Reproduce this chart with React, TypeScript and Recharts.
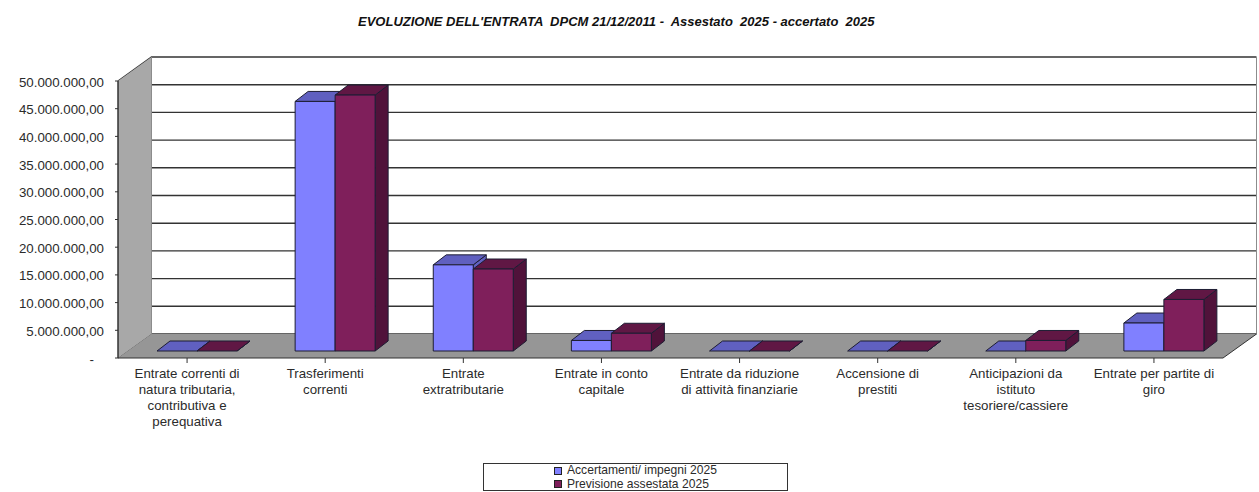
import { Bar, BarChart, CartesianGrid, Legend, ReferenceArea, XAxis, YAxis } from "recharts";

const categories = [
  ["Entrate correnti di", "natura tributaria,", "contributiva e", "perequativa"],
  ["Trasferimenti", "correnti"],
  ["Entrate", "extratributarie"],
  ["Entrate in conto", "capitale"],
  ["Entrate da riduzione", "di attività finanziarie"],
  ["Accensione di", "prestiti"],
  ["Anticipazioni da", "istituto", "tesoriere/cassiere"],
  ["Entrate per partite di", "giro"],
];
const accertamenti = [0, 45050000, 15550000, 1900000, 0, 0, 0, 5050000];
const previsione = [0, 46200000, 14800000, 3200000, 0, 0, 1900000, 9300000];
const yTicks = [0, 5000000, 10000000, 15000000, 20000000, 25000000, 30000000, 35000000, 40000000, 45000000, 50000000];
const yLabels = ["-", "5.000.000,00", "10.000.000,00", "15.000.000,00", "20.000.000,00", "25.000.000,00", "30.000.000,00", "35.000.000,00", "40.000.000,00", "45.000.000,00", "50.000.000,00"];

const data = categories.map((c, i) => ({ name: i, acc: accertamenti[i], prev: previsione[i] }));

const FONT = "'Liberation Sans', Arial, sans-serif";
const TEXT = "#2b2b2b";
const LINE = "#333333";
// depth of the walls, and of the bars, in px
const WALL_X = 33.5;
const WALL_Y = 24;
const BAR_SHIFT_X = 10;
const BAR_SHIFT_Y = 7;
const DEPTH_X = 13;
const DEPTH_Y = 10;

function Walls({ x, y, width, height }: any) {
  const b = y + height;
  const r = x + width;
  return (
    <g>
      <polygon points={`${x},${y} ${x + WALL_X},${y - WALL_Y} ${x + WALL_X},${b - WALL_Y} ${x},${b}`} fill="#a8a8a8" />
      <polygon points={`${x},${b} ${x + WALL_X},${b - WALL_Y} ${r + WALL_X},${b - WALL_Y} ${r},${b}`} fill="#969696" />
      <line x1={x + WALL_X} y1={y - WALL_Y} x2={x + WALL_X} y2={b - WALL_Y} stroke="#8c8c8c" />
      <line x1={r + WALL_X} y1={y - WALL_Y} x2={r + WALL_X} y2={b - WALL_Y} stroke="#8c8c8c" />
      <line x1={x} y1={b} x2={x} y2={y} stroke={LINE} />
      <line x1={r} y1={b} x2={r + WALL_X} y2={b - WALL_Y} stroke={LINE} />
    </g>
  );
}

function GridLine({ x1, x2, y1 }: any) {
  return (
    <g key={`g-${y1}`}>
      <polyline
        points={`${x1},${y1} ${x1 + WALL_X},${y1 - WALL_Y} ${x2 + WALL_X},${y1 - WALL_Y}`}
        fill="none"
        stroke={LINE}
        strokeWidth={1.4}
      />
    </g>
  );
}

function Box3D({ x, y, width, height, front, top, side }: any) {
  const l = x + BAR_SHIFT_X;
  const t = y - BAR_SHIFT_Y;
  const r = l + width;
  const b = t + height;
  return (
    <g stroke="#1d1d33" strokeWidth={1} strokeLinejoin="round">
      <polygon points={`${r},${t} ${r + DEPTH_X},${t - DEPTH_Y} ${r + DEPTH_X},${b - DEPTH_Y} ${r},${b}`} fill={side} />
      <polygon points={`${l},${t} ${l + DEPTH_X},${t - DEPTH_Y} ${r + DEPTH_X},${t - DEPTH_Y} ${r},${t}`} fill={top} />
      {height > 0 && <rect x={l} y={t} width={width} height={height} fill={front} />}
    </g>
  );
}

function CategoryTick({ x, y, payload }: any) {
  const lines = categories[payload.value] || [];
  return (
    <text x={x} y={y + 13} textAnchor="middle" fontFamily={FONT} fontSize={13.3} fill={TEXT}>
      {lines.map((l, i) => (
        <tspan key={i} x={x} dy={i === 0 ? 0 : 16}>{l}</tspan>
      ))}
    </text>
  );
}

function ValueTick({ x, y, payload }: any) {
  const label = yLabels[yTicks.indexOf(payload.value)];
  return (
    <text x={label === "-" ? x - 19 : x - 9} y={y} dy={5.5} textAnchor="end" fontFamily={FONT} fontSize={13.3} fill={TEXT}>
      {label}
    </text>
  );
}

function LegendBox({ payload }: any) {
  return (
    <div
      style={{
        boxSizing: "border-box",
        width: 305,
        height: 28,
        border: "1px solid #333",
        background: "#fff",
        paddingLeft: 70,
        fontFamily: FONT,
        fontSize: 12.1,
        lineHeight: "13.5px",
        color: TEXT,
      }}
    >
      {(payload || []).map((p: any) => (
        <div key={p.value} style={{ display: "flex", alignItems: "center", height: 13.5 }}>
          <span style={{ boxSizing: "border-box", width: 8, height: 8, border: "1px solid #222", background: p.color, marginRight: 5 }} />
          {p.value}
        </div>
      ))}
    </div>
  );
}

export default function App() {
  return (
    <div style={{ position: "absolute", left: 0, top: 0, width: 1259, height: 492, background: "#fff" }}>
      <div
        style={{
          position: "absolute",
          top: 14,
          left: 358,
          whiteSpace: "pre",
          fontFamily: FONT,
          fontSize: 13,
          fontWeight: "bold",
          fontStyle: "italic",
          color: "#111",
        }}
      >
        {"EVOLUZIONE DELL'ENTRATA  DPCM 21/12/2011 -  Assestato  2025 - accertato  2025"}
      </div>
      <BarChart
        width={1259}
        height={492}
        data={data}
        margin={{ top: 81, right: 36, bottom: 0, left: 0 }}
        barGap={0}
        barSize={40}
      >
        <ReferenceArea y1={0} y2={50000000} shape={<Walls />} stroke="none" fill="none" ifOverflow="visible" />
        <CartesianGrid vertical={false} horizontal={(p: any) => <GridLine {...p} />} />
        <XAxis
          dataKey="name"
          type="category"
          height={134}
          interval={0}
          tick={<CategoryTick />}
          tickLine={{ stroke: LINE }}
          tickSize={5}
          axisLine={{ stroke: LINE }}
        />
        <YAxis
          width={118}
          domain={[0, 50000000]}
          ticks={yTicks}
          interval={0}
          tick={<ValueTick />}
          tickLine={{ stroke: LINE }}
          tickSize={3}
          axisLine={{ stroke: LINE }}
        />
        <Bar
          dataKey="acc"
          name="Accertamenti/ impegni 2025"
          fill="#8080ff"
          isAnimationActive={false}
          shape={(p: any) => <Box3D {...p} front="#8080ff" top="#6060c0" side="#6060c0" />}
        />
        <Bar
          dataKey="prev"
          name="Previsione assestata 2025"
          fill="#7f1f5b"
          isAnimationActive={false}
          shape={(p: any) => <Box3D {...p} front="#7f1f5b" top="#601744" side="#50123a" />}
        />
        <Legend
          verticalAlign="middle"
          layout="horizontal"
          wrapperStyle={{ position: "absolute", left: 483, top: 463, width: 305, height: 28 }}
          content={<LegendBox />}
        />
      </BarChart>
    </div>
  );
}
